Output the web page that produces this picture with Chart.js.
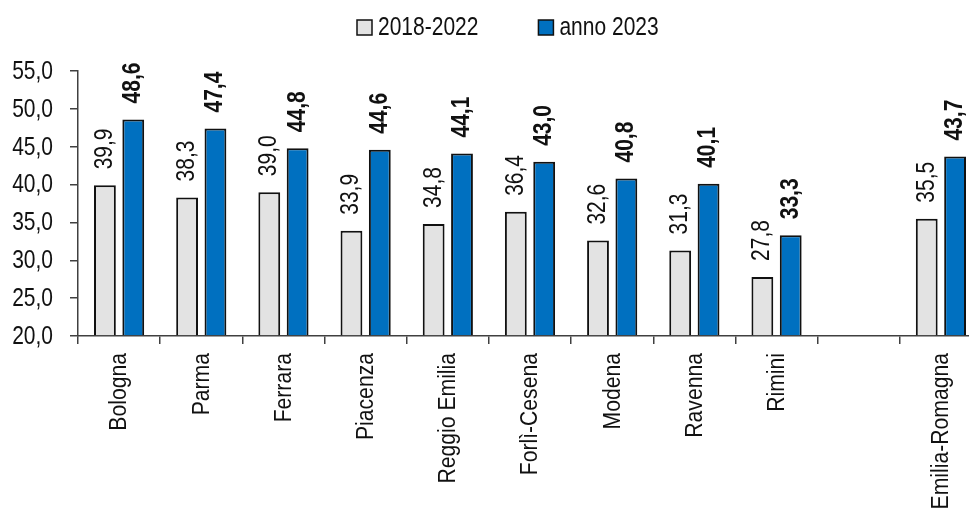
<!DOCTYPE html>
<html>
<head>
<meta charset="utf-8">
<script src="https://cdn.jsdelivr.net/npm/chart.js@4.4.1/dist/chart.umd.min.js"></script>
<style>
  html, body { margin: 0; padding: 0; background: #fff; overflow: hidden; }
  #c { display: block; }
</style>
</head>
<body>
<canvas id="c" width="990" height="508"></canvas>
<script>
const categories = ["Bologna", "Parma", "Ferrara", "Piacenza", "Reggio Emilia", "Forlì-Cesena", "Modena", "Ravenna", "Rimini", "", "Emilia-Romagna"];
const media20182022 = [39.9, 38.3, 39.0, 33.9, 34.8, 36.4, 32.6, 31.3, 27.8, null, 35.5];
const anno2023 = [48.6, 47.4, 44.8, 44.6, 44.1, 43.0, 40.8, 40.1, 33.3, null, 43.7];
const seriesNames = ["2018-2022", "anno 2023"];
const yTicks = [20, 25, 30, 35, 40, 45, 50, 55];

const FONT = "'Liberation Sans', Arial, sans-serif";
const TEXT = "#111111";
const AXIS = "#404040";
const fmt = v => v.toFixed(1).replace(".", ",");

/* the original type is a slightly condensed Arial, so text is squeezed along its own direction */
function drawText(ctx, text, x, y, o) {
  ctx.save();
  ctx.translate(x, y);
  if (o.rot) ctx.rotate(o.rot);
  ctx.scale(o.cond, 1);
  ctx.font = (o.bold ? "bold " : "") + o.size + "px " + FONT;
  ctx.fillStyle = TEXT;
  ctx.textAlign = o.align;
  ctx.textBaseline = "middle";
  ctx.fillText(text, 0, 0);
  ctx.restore();
}

/* axis tick labels, placed with the chart's own scales */
const axisLabels = {
  id: "axisLabels",
  afterDraw(chart) {
    const ctx = chart.ctx;
    const { x, y } = chart.scales;
    y.ticks.forEach(t => {
      drawText(ctx, fmt(t.value), y.right - 25, y.getPixelForValue(t.value) + 1,
        { size: 25, cond: 0.84, align: "right" });
    });
    categories.forEach((c, i) => {
      if (!c) return;
      drawText(ctx, c, x.getPixelForValue(i) + 1, x.top + 17,
        { size: 23, cond: 0.92, align: "right", rot: -Math.PI / 2 });
    });
  }
};

/* value labels, rotated, above each bar */
const valueLabels = {
  id: "valueLabels",
  afterDatasetsDraw(chart) {
    const ctx = chart.ctx;
    chart.data.datasets.forEach((ds, di) => {
      chart.getDatasetMeta(di).data.forEach((bar, i) => {
        const v = ds.data[i];
        if (v == null) return;
        drawText(ctx, fmt(v), bar.x, bar.y - 16,
          { size: 25, cond: 0.84, bold: di === 1, align: "left", rot: -Math.PI / 2 });
      });
    });
  }
};

/* legend row at the top */
const topLegend = {
  id: "topLegend",
  afterDraw(chart) {
    const ctx = chart.ctx;
    ctx.save();
    ctx.font = "25px " + FONT;
    const box = 15, gap = 6, spacing = 60, cond = 0.84;
    const widths = seriesNames.map(t => ctx.measureText(t).width * cond);
    let x = 357;
    const y = 27.5;
    chart.data.datasets.forEach((ds, i) => {
      ctx.fillStyle = ds.backgroundColor;
      ctx.fillRect(x, y - box / 2, box, box);
      ctx.lineWidth = 1.5;
      ctx.strokeStyle = ds.borderColor;
      ctx.strokeRect(x, y - box / 2, box, box);
      drawText(ctx, seriesNames[i], x + box + gap, y + 1, { size: 25, cond, align: "left" });
      x += box + gap + widths[i] + spacing;
    });
    ctx.restore();
  }
};

new Chart(document.getElementById("c"), {
  type: "bar",
  data: {
    labels: categories,
    datasets: [
      {
        label: seriesNames[0],
        data: media20182022,
        backgroundColor: "#e3e3e3",
        borderColor: "#111111",
        borderWidth: 2,
        base: 20,
      },
      {
        label: seriesNames[1],
        data: anno2023,
        backgroundColor: "#0070c0",
        borderColor: "#111111",
        borderWidth: 2,
        base: 20,
      },
    ],
  },
  options: {
    responsive: false,
    animation: false,
    devicePixelRatio: 1,
    layout: { padding: { top: 71, right: 8, left: 0, bottom: 0 } },
    datasets: { bar: { categoryPercentage: 0.69, barPercentage: 0.77 } },
    plugins: {
      legend: { display: false },
      tooltip: { enabled: false },
    },
    scales: {
      x: {
        grid: { drawOnChartArea: false, drawTicks: true, tickLength: 8, color: AXIS, lineWidth: 1.5 },
        border: { display: true, color: AXIS, width: 1.5 },
        ticks: { display: false, autoSkip: false },
        afterFit(s) { s.height = 172; },
      },
      y: {
        min: 20,
        max: 55,
        afterBuildTicks(s) { s.ticks = yTicks.map(v => ({ value: v })); },
        grid: { drawOnChartArea: false, drawTicks: true, tickLength: 8, color: AXIS, lineWidth: 1.5 },
        border: { display: true, color: AXIS, width: 1.5 },
        ticks: { display: false },
        afterFit(s) { s.width = 78; },
      },
    },
  },
  plugins: [valueLabels, axisLabels, topLegend],
});
</script>
</body>
</html>
